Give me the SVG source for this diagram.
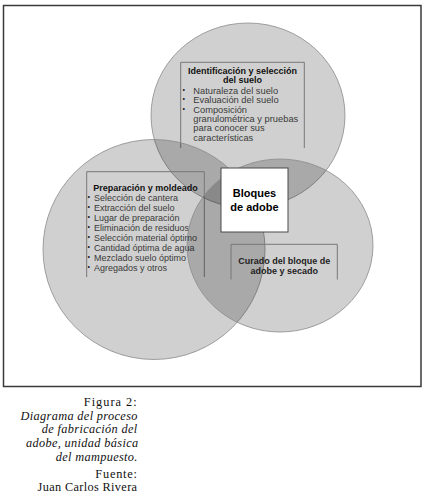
<svg xmlns="http://www.w3.org/2000/svg" width="429" height="496" viewBox="0 0 429 496">
<style>
.circ{fill:#000;fill-opacity:.185;stroke:#8a8a8a;stroke-width:.8}
.brk{fill:none;stroke:#777;stroke-width:1}
.ttl{font-family:"Liberation Sans",Arial,sans-serif;font-weight:bold;font-size:9px;fill:#111;text-anchor:middle}
.itm{font-family:"Liberation Sans",Arial,sans-serif;font-size:9px;fill:#3a3a3a}
.bul{font-family:"Liberation Sans",Arial,sans-serif;font-size:7px;fill:#222}
.cap{font-family:"Liberation Serif","Times New Roman",serif;font-size:12.3px;fill:#111;text-anchor:end;letter-spacing:.35px}
.it{font-style:italic}
</style>
<rect x="3.5" y="5.5" width="417.5" height="381" fill="#fff" stroke="#3a3a3a" stroke-width="1.5"/>
<g id="connectors"/>
<g id="node-identificacion">
<ellipse class="circ" cx="248" cy="115.5" rx="97" ry="92.5"/>
<path class="brk" d="M180.7 148V62.3H304.3V148"/>
<text class="ttl" x="242.5" y="73.5">Identificación y selección</text>
<text class="ttl" x="242.5" y="83">del suelo</text>
<g class="bul"><text x="182.5" y="92">•</text><text x="182.5" y="101.3">•</text><text x="182.5" y="110.6">•</text></g>
<g class="itm" style="font-size:9.3px">
<text x="193.3" y="94">Naturaleza del suelo</text>
<text x="193.3" y="103.3">Evaluación del suelo</text>
<text x="193.3" y="112.6">Composición</text>
<text x="193.3" y="121.9">granulométrica y pruebas</text>
<text x="193.3" y="131.2">para conocer sus</text>
<text x="193.3" y="140.5">características</text>
</g>
</g>
<g id="node-preparacion">
<ellipse class="circ" cx="154" cy="249.5" rx="111" ry="110"/>
<path class="brk" d="M86.7 277V171.7H204.3V277"/>
<text class="ttl" x="145.5" y="191">Preparación y moldeado</text>
<g class="bul">
<text x="87.5" y="199">•</text><text x="87.5" y="209">•</text><text x="87.5" y="219">•</text><text x="87.5" y="229">•</text><text x="87.5" y="239">•</text><text x="87.5" y="249">•</text><text x="87.5" y="259">•</text><text x="87.5" y="269">•</text>
</g>
<g class="itm">
<text x="94" y="201.3">Selección de cantera</text>
<text x="94" y="211.2">Extracción del suelo</text>
<text x="94" y="221.1">Lugar de preparación</text>
<text x="94" y="231">Eliminación de residuos</text>
<text x="94" y="240.9">Selección material óptimo</text>
<text x="94" y="250.8">Cantidad óptima de agua</text>
<text x="94" y="260.7">Mezclado suelo óptimo</text>
<text x="94" y="270.6">Agregados y otros</text>
</g>
</g>
<g id="node-curado">
<ellipse class="circ" cx="280" cy="245.5" rx="93" ry="86.5"/>
<path class="brk" d="M231 279.5V244.3H337.3V279.5"/>
<text class="ttl" x="284.2" y="263.5" style="fill:#222">Curado del bloque de</text>
<text class="ttl" x="284.2" y="274.2" style="fill:#222">adobe y secado</text>
</g>
<g id="node-bloques">
<rect x="221" y="168" width="67" height="64" fill="#fff" stroke="#4a4a4a" stroke-width="1"/>
<text class="ttl" x="254.5" y="197" style="font-size:11px;fill:#000">Bloques</text>
<text class="ttl" x="254.5" y="211" style="font-size:11px;fill:#000">de adobe</text>
</g>
<g id="caption">
<text class="cap" x="137.6" y="406" style="letter-spacing:1px">Figura 2:</text>
<text class="cap it" x="137.8" y="419.5">Diagrama del proceso</text>
<text class="cap it" x="137.6" y="433">de fabricación del</text>
<text class="cap it" x="138.5" y="447">adobe, unidad básica</text>
<text class="cap it" x="137.8" y="461">del mampuesto.</text>
<text class="cap" x="137.8" y="477.5" style="letter-spacing:.8px">Fuente:</text>
<text class="cap" x="137.4" y="491">Juan Carlos Rivera</text>
</g>
</svg>
